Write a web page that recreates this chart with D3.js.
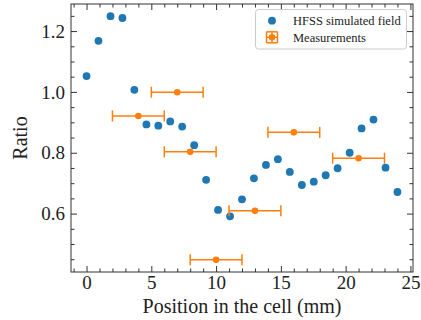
<!DOCTYPE html>
<html>
<head>
<meta charset="utf-8">
<script src="https://cdn.jsdelivr.net/npm/d3@7"></script>
<style>
  body { margin: 0; background: #fff; }
  text { font-family: "Liberation Serif", "Times New Roman", serif; fill: #222; }
</style>
</head>
<body>
<script>
// HFSS simulated field
const simX = [0, 0.92, 1.85, 2.77, 3.69, 4.62, 5.54, 6.46, 7.38, 8.31, 9.23, 10.15, 11.08, 12.0,
              12.92, 13.85, 14.77, 15.69, 16.62, 17.54, 18.46, 19.38, 20.31, 21.23, 22.15, 23.08, 24.0];
const simY = [1.052, 1.168, 1.249, 1.243, 1.007, 0.893, 0.889, 0.903, 0.886, 0.825, 0.711, 0.612, 0.591,
              0.647, 0.716, 0.760, 0.779, 0.737, 0.694, 0.705, 0.726, 0.749, 0.800, 0.880, 0.909, 0.751, 0.671];

// measurements with x error
const measX = [4, 7, 16, 8, 21, 13, 10];
const measY = [0.921, 0.999, 0.867, 0.803, 0.782, 0.609, 0.448];
const measErr = [2, 2, 2, 2, 2, 2, 2];

const xTicks = [0, 5, 10, 15, 20, 25];
const yTicks = [0.6, 0.8, 1.0, 1.2];

const W = 421, H = 320;
const mLeft = 71, mRight = 413, mTop = 4, mBottom = 272;
const blue = "#1f77b4", orange = "#ff7f0e";

const svg = d3.select("body").append("svg")
    .attr("width", W)
    .attr("height", H);

const x = d3.scaleLinear().domain([-1.2, 25.2]).range([mLeft, mRight]);
const y = d3.scaleLinear().domain([0.408, 1.289]).range([mBottom, mTop]);

const xMinor = d3.range(-1, 26, 1).filter(v => v % 5 !== 0);
const yMinor = [0.45, 0.5, 0.55, 0.65, 0.7, 0.75, 0.85, 0.9, 0.95, 1.05, 1.1, 1.15, 1.25];

function styleAxis(g) {
  g.select(".domain").remove();
  g.selectAll(".tick line").attr("stroke", "#333").attr("stroke-width", 1);
  g.selectAll(".tick text").style("font-size", "19px").attr("fill", "#222")
    .style("font-family", '"Liberation Serif", serif');
}

// bottom
svg.append("g").attr("transform", `translate(0,${mBottom})`)
  .call(d3.axisBottom(x).tickValues(xTicks).tickSize(-6).tickPadding(4).tickFormat(d3.format("d")))
  .call(styleAxis);
svg.append("g").attr("transform", `translate(0,${mBottom})`)
  .call(d3.axisBottom(x).tickValues(xMinor).tickSize(-3.5).tickFormat(""))
  .call(styleAxis);
// top
svg.append("g").attr("transform", `translate(0,${mTop})`)
  .call(d3.axisTop(x).tickValues(xTicks).tickSize(-6).tickFormat(""))
  .call(styleAxis);
svg.append("g").attr("transform", `translate(0,${mTop})`)
  .call(d3.axisTop(x).tickValues(xMinor).tickSize(-3.5).tickFormat(""))
  .call(styleAxis);
// left
svg.append("g").attr("transform", `translate(${mLeft},0)`)
  .call(d3.axisLeft(y).tickValues(yTicks).tickSize(-6).tickPadding(6).tickFormat(d3.format(".1f")))
  .call(styleAxis);
svg.append("g").attr("transform", `translate(${mLeft},0)`)
  .call(d3.axisLeft(y).tickValues(yMinor).tickSize(-3.5).tickFormat(""))
  .call(styleAxis);
// right
svg.append("g").attr("transform", `translate(${mRight},0)`)
  .call(d3.axisRight(y).tickValues(yTicks).tickSize(-6).tickFormat(""))
  .call(styleAxis);
svg.append("g").attr("transform", `translate(${mRight},0)`)
  .call(d3.axisRight(y).tickValues(yMinor).tickSize(-3.5).tickFormat(""))
  .call(styleAxis);

svg.append("rect")
  .attr("x", mLeft).attr("y", mTop)
  .attr("width", mRight - mLeft).attr("height", mBottom - mTop)
  .attr("fill", "none").attr("stroke", "#333").attr("stroke-width", 1);

// simulated points
svg.append("g").selectAll("circle")
  .data(simX.map((v, i) => [v, simY[i]]))
  .join("circle")
  .attr("cx", d => x(d[0]))
  .attr("cy", d => y(d[1]))
  .attr("r", 3.9)
  .attr("fill", blue);

// measurements
const meas = measX.map((v, i) => ({ x: v, y: measY[i], e: measErr[i] }));
const mg = svg.append("g").selectAll("g").data(meas).join("g")
  .attr("stroke", orange).attr("stroke-width", 1.5);
mg.append("line")
  .attr("x1", d => x(d.x - d.e)).attr("x2", d => x(d.x + d.e))
  .attr("y1", d => y(d.y)).attr("y2", d => y(d.y));
mg.append("line")
  .attr("x1", d => x(d.x - d.e)).attr("x2", d => x(d.x - d.e))
  .attr("y1", d => y(d.y) - 5.5).attr("y2", d => y(d.y) + 5.5);
mg.append("line")
  .attr("x1", d => x(d.x + d.e)).attr("x2", d => x(d.x + d.e))
  .attr("y1", d => y(d.y) - 5.5).attr("y2", d => y(d.y) + 5.5);
mg.append("circle")
  .attr("cx", d => x(d.x)).attr("cy", d => y(d.y))
  .attr("r", 3.3).attr("fill", orange).attr("stroke", "none");

// axis labels
svg.append("text")
  .attr("x", (mLeft + mRight) / 2).attr("y", 313)
  .attr("text-anchor", "middle")
  .style("font-size", "20px")
  .text("Position in the cell (mm)");
svg.append("text")
  .attr("transform", `translate(27,${(mTop + mBottom) / 2}) rotate(-90)`)
  .attr("text-anchor", "middle")
  .style("font-size", "20px")
  .text("Ratio");

// legend
const lg = svg.append("g");
lg.append("rect")
  .attr("x", 255.5).attr("y", 9.5).attr("width", 151).attr("height", 39.5)
  .attr("rx", 3).attr("fill", "#fff").attr("fill-opacity", 0.8)
  .attr("stroke", "#ccc").attr("stroke-width", 1);
lg.append("circle").attr("cx", 272).attr("cy", 20.7).attr("r", 3.9).attr("fill", blue);
const lm = lg.append("g").attr("stroke", orange).attr("stroke-width", 1.5);
const cx = 272, cy = 37.3, s = 5.5;
lm.append("line").attr("x1", cx - s).attr("x2", cx + s).attr("y1", cy).attr("y2", cy);
lm.append("line").attr("x1", cx).attr("x2", cx).attr("y1", cy - s).attr("y2", cy + s);
lm.append("line").attr("x1", cx - s).attr("x2", cx - s).attr("y1", cy - s).attr("y2", cy + s);
lm.append("line").attr("x1", cx + s).attr("x2", cx + s).attr("y1", cy - s).attr("y2", cy + s);
lm.append("line").attr("x1", cx - s).attr("x2", cx + s).attr("y1", cy - s).attr("y2", cy - s);
lm.append("line").attr("x1", cx - s).attr("x2", cx + s).attr("y1", cy + s).attr("y2", cy + s);
lg.append("circle").attr("cx", cx).attr("cy", cy).attr("r", 3.3).attr("fill", orange);
lg.append("text").attr("x", 293).attr("y", 24.5).style("font-size", "12.5px").text("HFSS simulated field");
lg.append("text").attr("x", 293).attr("y", 41.6).style("font-size", "12.5px").text("Measurements");
</script>
</body>
</html>
